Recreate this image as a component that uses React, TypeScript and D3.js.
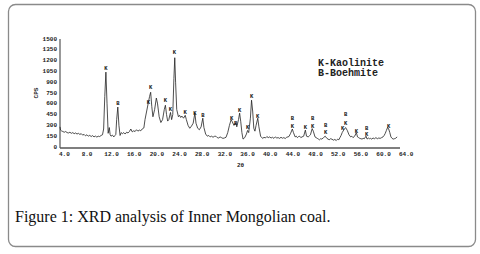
import React from "react";
import * as d3 from "d3";

const theta: number[] = [
  4.0, 4.1, 4.25, 4.5, 4.75, 5.0, 5.25, 5.5, 5.75, 6.0, 6.25, 6.5, 6.75, 7.0, 7.25, 7.5, 7.75, 8.0, 8.25, 8.5, 8.75, 9.0, 9.25, 9.5, 9.75, 10.0, 10.25, 10.5, 10.75, 11.0, 11.25, 11.5,
  11.7, 11.9, 12.1, 12.3, 12.5, 12.7, 12.85, 13.0, 13.25, 13.5, 13.7, 13.85, 14.0, 14.2, 14.4, 14.6,
  14.8, 15.0, 15.25, 15.5, 15.75, 16.0, 16.25, 16.5, 16.75, 17.0, 17.25, 17.5, 17.75, 18.0, 18.25, 18.5, 18.8,
  19.0, 19.3, 19.6, 19.8, 20.0, 20.2, 20.4, 20.7, 21.0, 21.2, 21.5, 21.8, 22.1, 22.4, 22.6, 22.8, 23.0, 23.2, 23.5, 23.7, 23.9,
  24.1, 24.25, 24.4, 24.6, 24.9, 25.1, 25.3, 25.5, 25.8, 26.1, 26.3, 26.6, 26.9, 27.2, 27.5, 27.8, 28.0, 28.3, 28.6, 28.9, 29.2, 29.4, 29.7,
  30.0, 30.25, 30.5, 30.75, 31.0, 31.25, 31.5, 31.75, 32.0, 32.25, 32.5, 32.75, 33.0, 33.3, 33.6, 33.9, 34.2, 34.4, 34.7, 35.0, 35.2, 35.5, 35.7, 35.9, 36.1, 36.3,
  36.6, 36.9, 37.1, 37.3, 37.6, 37.8, 38.0, 38.2, 38.4, 38.6, 38.9, 39.1, 39.4, 39.6, 39.8, 40.0, 40.25, 40.5, 40.75, 41.0, 41.25, 41.5, 41.75, 42.0, 42.25, 42.5, 42.75, 43.0, 43.25, 43.5, 43.75, 44.0, 44.4,
  44.7, 45.0, 45.2, 45.5, 45.7, 45.9, 46.1, 46.3, 46.5, 46.7, 47.0, 47.3, 47.5, 47.8, 48.0, 48.2, 48.5, 48.7, 49.0, 49.2, 49.4, 49.6, 49.8, 50.0, 50.2, 50.5, 50.8, 51.1, 51.3, 51.5, 51.75, 52.0, 52.25, 52.5, 52.75, 53.0, 53.2, 53.4,
  53.6, 53.8, 54.1, 54.4, 54.7, 55.0, 55.3, 55.5, 55.7, 56.0, 56.3, 56.5, 56.7, 56.9, 57.1, 57.3, 57.5, 57.7, 58.0, 58.2, 58.4, 58.6, 58.8, 59.0, 59.25, 59.5, 59.75, 60.0, 60.25, 60.5, 60.75, 61.0, 61.2, 61.4, 61.6, 61.8, 62.0, 62.2, 62.4, 62.6, 62.8, 63.0, 63.2, 63.5
];

const cps: number[] = [
  280, 235, 225, 215, 205, 215, 200, 195, 205, 190, 200, 185, 195, 180, 190, 175, 185, 165, 175, 155, 170, 150, 162, 145, 158, 140, 152, 138, 150, 145, 160, 170,
  250, 700, 1040, 600, 190, 270, 170, 150, 165, 140, 160, 175, 380, 555, 300, 160,
  200, 185, 200, 180, 205, 195, 215, 250, 210, 225, 215, 240, 220, 235, 225, 250, 265,
  380, 500, 620, 700, 760, 560, 420, 520, 680, 610, 420, 340, 380, 520, 580, 450, 360, 380, 480, 380, 450,
  950, 1240, 900, 520, 420, 440, 410, 430, 400, 440, 380, 300, 260, 290, 330, 470, 330, 260, 240, 280, 400, 270, 180,
  150, 160, 140, 150, 135, 148, 150, 130, 125, 140, 130, 120, 125, 135, 200, 300, 380, 350, 300, 340, 280, 380, 470, 350, 200, 110,
  130, 180, 230, 200, 400, 650, 500, 260, 220, 300, 400, 280, 150, 130, 120, 135, 125, 145, 130, 140, 125, 135, 120, 140, 125, 130, 120, 135, 122, 130, 118, 135, 145,
  190, 250, 200, 140, 150, 130, 145, 150, 130, 140, 150, 235, 150, 140, 155, 170, 255, 220, 140, 130, 120, 110, 100, 115, 110, 130, 150, 120, 110, 100, 115, 108, 95, 105, 90, 110, 100, 130,
  160, 200, 240, 270, 230, 170, 140, 150, 130, 150, 200, 140, 130, 120, 115, 110, 120, 115, 150, 110, 125, 115, 120, 110, 125, 115, 130, 115, 125, 120, 130, 140, 160, 190, 230, 270, 250, 200, 140, 120, 110, 115, 120, 140
];

const peakTheta: number[] = [12.1, 14.2, 19.6, 20.0, 22.6, 23.5, 24.2, 26.1, 27.8, 29.2, 34.3, 35.0, 35.7, 37.1, 37.8, 38.9, 45.0, 45.0, 47.3, 48.6, 48.6, 50.9, 50.9, 54.4, 54.4, 53.9, 56.3, 58.1, 58.1, 62.0];
const peakCps: number[] = [1090, 600, 620, 820, 640, 515, 1310, 485, 470, 430, 400, 330, 500, 265, 695, 420, 400, 290, 275, 390, 280, 300, 195, 445, 320, 250, 220, 262, 168, 290];
const peakText: string[] = ["K", "B", "K", "K", "K", "K", "K", "K", "K", "B", "K", "B", "K", "K", "K", "K", "B", "K", "K", "B", "K", "B", "K", "B", "K", "K", "K", "B", "K", "K"];

const xTicks: number[] = [4, 8, 12, 16, 20, 24, 28, 32, 36, 40, 44, 48, 52, 56, 60, 64];
const yTicks: number[] = [0, 150, 300, 450, 600, 750, 900, 1050, 1200, 1350, 1500];
const legendItems: string[] = ["K-Kaolinite", "B-Boehmite"];
const caption = "Figure 1: XRD analysis of Inner Mongolian coal.";

export default function App() {
  const x = d3.scaleLinear().domain([4, 64]).range([60, 400]);
  const y = d3.scaleLinear().domain([0, 1500]).range([147, 39]);
  const pts = theta.map((t, i) => [t, cps[i]] as [number, number]);
  const line = d3.line<[number, number]>().x((d) => x(d[0])).y((d) => y(d[1]));
  const small = { fontFamily: "'Liberation Mono', monospace", fontWeight: 700, fontSize: 6 } as const;
  return (
    <svg width={480} height={254} style={{ position: "absolute", left: 0, top: 0, background: "#fff" }}>
      <rect x={8.5} y={4.5} width={467} height={242} rx={7} fill="#fff" stroke="#8a8a8a" strokeWidth={1.3} />
      <line x1={x(4)} x2={x(4)} y1={y(1500)} y2={y(0) + 1} stroke="#555" strokeWidth={1.2} />
      <line x1={x(4)} x2={x(64)} y1={y(0) + 1} y2={y(0) + 1} stroke="#555" strokeWidth={1.5} />
      {yTicks.map((v) => (
        <text key={"y" + v} x={57} y={y(v)} textAnchor="end" dominantBaseline="middle" {...small} fill="#222">
          {v}
        </text>
      ))}
      {xTicks.map((v) => (
        <text key={"x" + v} x={x(v) - 1} y={154} dominantBaseline="middle" {...small} fill="#222">
          {v.toFixed(1)}
        </text>
      ))}
      <text x={237} y={165} dominantBaseline="middle" {...small} fill="#222">2θ</text>
      <text transform={`translate(36,${y(750)}) rotate(-90)`} textAnchor="middle" dominantBaseline="middle" {...small} fill="#222">CPS</text>
      <path d={line(pts) || ""} fill="none" stroke="#222" strokeWidth={0.8} strokeLinejoin="round" />
      {peakTheta.map((t, i) => (
        <text key={"p" + i} x={x(t)} y={y(peakCps[i])} textAnchor="middle" dominantBaseline="middle" {...small} fontSize={5.5} fill="#111">
          {peakText[i]}
        </text>
      ))}
      {legendItems.map((s, i) => (
        <text key={s} x={318} y={63 + i * 10} dominantBaseline="middle" fontFamily="'Liberation Mono', monospace" fontWeight={700} fontSize={10} fill="#222">
          {s}
        </text>
      ))}
      <text x={15} y={222} fontFamily="'Liberation Serif', serif" fontSize={16} fill="#111">{caption}</text>
    </svg>
  );
}
